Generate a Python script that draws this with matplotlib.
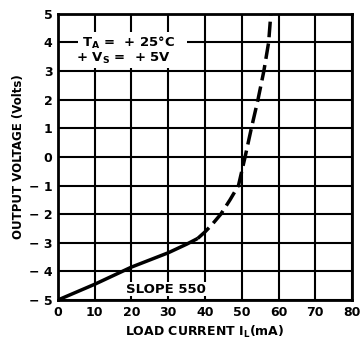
import matplotlib
matplotlib.use("Agg")
import matplotlib.pyplot as plt
from matplotlib.patches import Rectangle

# Data
solid_x = [0, 10, 20, 30, 35, 38]
solid_y = [-5.0, -4.45, -3.85, -3.35, -3.05, -2.85]
dash_x = [38, 40, 42, 44.3, 46.8, 49.1, 50.9, 52.6, 54.4, 56.0, 57.3, 57.9]
dash_y = [-2.85, -2.62, -2.35, -2.0, -1.5, -1.0, 0.0, 1.0, 2.0, 3.0, 4.0, 5.0]
x_ticks = [0, 10, 20, 30, 40, 50, 60, 70, 80]
y_ticks = [-5, -4, -3, -2, -1, 0, 1, 2, 3, 4, 5]
y_labels = ["\u2212 5", "\u2212 4", "\u2212 3", "\u2212 2", "\u2212 1", "0", "1", "2", "3", "4", "5"]

plt.rcParams['font.family'] = ['DejaVu Sans']
plt.rcParams['font.weight'] = 'bold'
plt.rcParams['mathtext.default'] = 'bf'

fig = plt.figure(figsize=(3.6, 3.46), dpi=100)
ax = fig.add_axes([0.161, 0.133, 0.817, 0.827])

ax.plot(solid_x, solid_y, color='black', lw=2.5, solid_capstyle='butt', zorder=3)
ax.plot(dash_x, dash_y, color='black', lw=2.5, dashes=(4.5, 1.8), zorder=3)

ax.set_xlim(0, 80)
ax.set_ylim(-5, 5)
ax.set_xticks(x_ticks)
ax.set_yticks(y_ticks)
ax.set_yticklabels(y_labels)
ax.grid(True, color='black', lw=1.5)
ax.set_axisbelow(True)
for s in ax.spines.values():
    s.set_linewidth(2.0)
ax.tick_params(length=0, pad=4, labelsize=9)
for lab in ax.get_xticklabels() + ax.get_yticklabels():
    lab.set_fontweight('bold')

ax.set_xlabel("LOAD CURRENT I$_\\mathbf{L}$(mA)", fontsize=9, fontweight='bold', labelpad=4)
ax.set_ylabel("OUTPUT VOLTAGE (Volts)", fontsize=8.5, fontweight='bold', labelpad=3)

ax.add_patch(Rectangle((5.5, 3.1), 29.5, 1.25, facecolor='white', edgecolor='none', zorder=2))
ax.text(6.5, 4.0, "T$_\\mathbf{A}$ =  + 25°C", fontsize=9.5, fontweight='bold', va='center',
        ha='left', zorder=4)
ax.text(4.8, 3.45, "+ V$_\\mathbf{S}$ =  + 5V", fontsize=9.5, fontweight='bold', va='center',
        ha='left', zorder=4)
ax.text(18.5, -4.62, "SLOPE 550", fontsize=9.5, fontweight='bold', va='center',
        ha='left', bbox=dict(facecolor='white', edgecolor='none', pad=0.5), zorder=4)

fig.savefig("out.png", dpi=100)
